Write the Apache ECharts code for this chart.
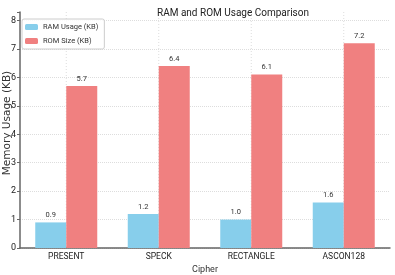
<!DOCTYPE html>
<html><head><meta charset="utf-8">
<script src="https://cdn.jsdelivr.net/npm/echarts@6/dist/echarts.min.js"></script>
<style>html,body{margin:0;padding:0;background:#fff}#c{width:395px;height:275px}</style>
</head><body><div id="c"></div>
<script>
const categories = ['PRESENT', 'SPECK', 'RECTANGLE', 'ASCON128'];
const ramUsage = [0.9, 1.2, 1.0, 1.6];
const romSize = [5.7, 6.4, 6.1, 7.2];
const seriesNames = ['RAM Usage (KB)', 'ROM Size (KB)'];
const yTicks = [0, 1, 2, 3, 4, 5, 6, 7, 8];
const yAxisTitle = 'Memory Usage (KB)';

const FONT = "Roboto, 'Liberation Sans', sans-serif";
const GRID_TOP = 12, GRID_BOTTOM = 27, H = 275;
const chart = echarts.init(document.getElementById('c'), null, {renderer: 'canvas'});
const lbl = {show: true, position: 'top', distance: 3, fontSize: 7.5, color: '#333', fontFamily: FONT, formatter: p => p.value.toFixed(1)};
chart.setOption({
  animation: false,
  backgroundColor: '#fff',
  textStyle: {fontFamily: FONT},
  title: {text: 'RAM and ROM Usage Comparison', left: 152, top: 3,
    textStyle: {fontSize: 10, fontWeight: 'normal', color: '#222', fontFamily: FONT}},
  legend: {left: 22, top: 19, orient: 'vertical', itemWidth: 13, itemHeight: 6, itemGap: 6,
    padding: [4, 6, 4, 3], borderColor: '#ccc', borderWidth: 1, borderRadius: 2, backgroundColor: 'rgba(255,255,255,0.85)',
    textStyle: {fontSize: 7.5, color: '#333', fontFamily: FONT}, data: seriesNames},
  grid: {left: 20, right: 5, top: GRID_TOP, bottom: GRID_BOTTOM, containLabel: false, outerBoundsMode: 'none'},
  xAxis: {type: 'category', data: categories, boundaryGap: true,
    name: 'Cipher', nameLocation: 'middle', nameGap: 17, nameMoveOverlap: false,
    nameTextStyle: {fontSize: 9, color: '#333', fontFamily: FONT},
    axisLine: {lineStyle: {color: '#666', width: 1.5}},
    axisTick: {show: false},
    axisLabel: {fontSize: 8.5, color: '#222', margin: 4, fontFamily: FONT},
    splitLine: {show: false}},
  yAxis: {type: 'value', min: 0, max: 8.3, interval: 1,
    axisLine: {show: true, lineStyle: {color: '#666', width: 1.5}},
    axisTick: {show: true, length: 3, lineStyle: {color: '#666'}},
    axisLabel: {fontSize: 9, color: '#222', margin: 4, fontFamily: FONT,
      formatter: v => yTicks.includes(v) ? String(v) : ''},
    splitLine: {show: true, showMaxLine: false, lineStyle: {color: '#ddd', type: 'dotted', width: 1}}},
  series: [
    {name: seriesNames[0], type: 'bar', data: ramUsage, barWidth: 31, barGap: '0%',
      itemStyle: {color: '#87CEEB'}, label: lbl},
    {name: seriesNames[1], type: 'bar', data: romSize, barWidth: 31,
      itemStyle: {color: '#F08080'}, label: lbl}
  ]
});
// vertical dotted gridlines at category centers
const graphics = categories.map((c, i) => {
  const x = chart.convertToPixel({xAxisIndex: 0}, c);
  return {type: 'line', shape: {x1: x, y1: GRID_TOP, x2: x, y2: H - GRID_BOTTOM}, silent: true, z: -1,
    style: {stroke: '#ddd', lineDash: [1, 2], lineWidth: 1}};
});
graphics.push({type: 'text', x: 7, y: 123, rotation: Math.PI / 2, silent: true,
  style: {text: yAxisTitle, align: 'center', verticalAlign: 'middle', fill: '#333',
    font: "10.5px 'DejaVu Sans', sans-serif"}});
chart.setOption({graphic: graphics});
</script></body></html>
